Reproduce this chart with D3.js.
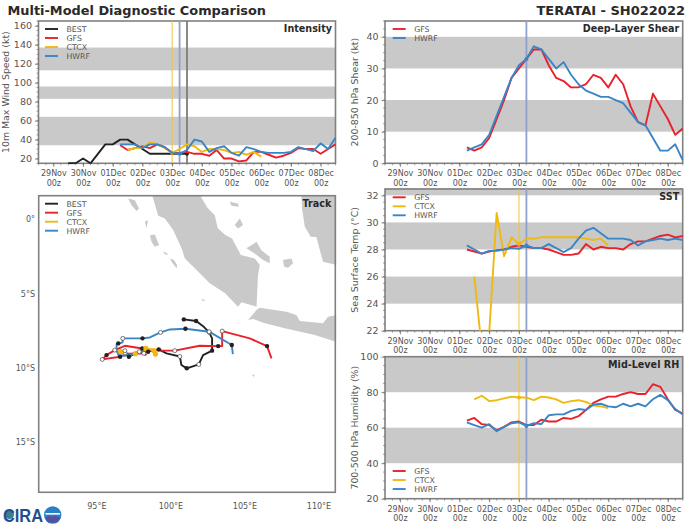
<!DOCTYPE html>
<html>
<head>
<meta charset="utf-8">
<script src="https://cdn.jsdelivr.net/npm/d3@7"></script>
<style>
  body { margin: 0; background: #fff; }
  text { font-family: "DejaVu Sans", sans-serif; }
</style>
</head>
<body>
<div id="chart"></div>
<script>
const red = "#e8212b", yellow = "#efb90f", blue = "#3a85c6", black = "#222222";

// x ticks, one per day
const tick_days = ["2022-11-29", "2022-11-30", "2022-12-01", "2022-12-02", "2022-12-03", "2022-12-04", "2022-12-05", "2022-12-06", "2022-12-07", "2022-12-08"];
const tick_labels = ["29Nov", "30Nov", "01Dec", "02Dec", "03Dec", "04Dec", "05Dec", "06Dec", "07Dec", "08Dec"];

// all series are 6 hourly, these are the start times
const best_start = "2022-11-29T12:00Z";
const gfs_start = "2022-12-01T06:00Z";
const hwrf_start = "2022-12-01T06:00Z";
const ctcx_start = "2022-12-01T12:00Z";

// Intensity
const best_vmax = [15, 15, 20, 15, 25, 35, 35, 40, 40, 35, 30, 25, 25, 25, 25, 25, 25];
const gfs_vmax = [34, 29, 31, 33, 31, 35, 32, 26, 26, 27, 25, 25, 23, 29, 20, 20, 17, 18, 27, 27, 24, 21, 23, 26, 31, 30, 30, 25, 30, 35];
const ctcx_vmax = [29, 31, 31, 37, 35, 31, 26, 30, 35, 33, 27, 30, 30, 29, 26, 27, 24, 27, 22];
const hwrf_vmax = [35, 35, 35, 31, 35, 35, 32, 26, 25, 29, 40, 38, 27, 31, 33, 26, 23, 32, 30, 27, 26, 26, 26, 27, 32, 30, 28, 36, 30, 42];
const vmax_bands = [[34, 64], [83, 96], [113, 137]];

// Shear
const gfs_shear = [5, 4, 5, 8, 14, 20, 27, 30, 33, 36, 36, 31, 27, 26, 24, 24, 25, 28, 27, 24, 28, 25, 18, 13, 12, 22, 18, 14, 9, 11];
const hwrf_shear = [4, 5, 6, 9, 15, 21, 27, 31, 33, 37, 36, 33, 30, 32, 28, 25, 23, 22, 21, 21, 20, 19, 16, 13, 12, 8, 4, 4, 6, 1];
const shear_bands = [[10, 20], [30, 40]];

// SST
const gfs_sst = [28.0, 27.85, 27.7, 27.85, 27.95, 28.0, 28.2, 28.3, 28.2, 28.1, 28.1, 28.0, 27.8, 27.6, 27.6, 27.7, 28.4, 28.0, 28.2, 28.1, 28.1, 28.0, 28.4, 28.6, 28.6, 28.8, 29.0, 29.1, 28.9, 29.0];
const ctcx_sst = [26, 20.7, 21.8, 30.7, 27.5, 28.9, 28.4, 28.8, 28.8, 28.9, 28.9, 28.9, 28.9, 28.9, 28.9, 28.8, 28.7, 28.8, 28.3];
const hwrf_sst = [28.3, 28.0, 27.7, 27.9, 27.9, 28.0, 28.1, 28.05, 28.3, 28.1, 28.1, 28.4, 28.1, 27.8, 28.1, 28.8, 29.4, 29.6, 29.2, 28.8, 28.8, 28.8, 28.7, 28.3, 28.6, 28.7, 28.8, 28.7, 28.8, 28.7];
const sst_bands = [[24, 26], [28, 30], [32, 33]];

// RH
const gfs_rh = [64, 65.5, 62, 61.5, 58.5, 60.5, 63, 63.5, 61.5, 61.5, 64.5, 63.5, 63.5, 65.5, 65, 66.5, 70, 74, 76, 77.5, 77.5, 79, 80, 79, 79, 84.5, 83, 76, 70, 68];
const ctcx_rh = [76, 78, 75, 75.5, 76.5, 77.5, 77, 77, 75.5, 77.5, 77, 76, 74, 75, 75.5, 74.5, 72.5, 72, 71];
const hwrf_rh = [63, 61.5, 60, 62, 58, 60.5, 62.5, 63, 61, 62.5, 62, 67, 67.5, 67.5, 69.5, 70.5, 70, 73, 73.5, 72, 71.5, 73.5, 72, 73.5, 72, 76, 78.5, 75.5, 70.5, 67.5];
const rh_bands = [[40, 60], [80, 100]];

// Track, lon and lat in degrees
const best_lon = [100.87, 101.70, 102.22, 102.58, 102.78, 102.78, 102.17, 101.88, 101.07, 100.71, 100.60, 99.70, 99.18, 98.3, 97.6, 97.16, 97.02, 96.9];
const best_lat = [-6.74, -6.85, -7.24, -7.62, -8.02, -8.85, -9.15, -9.78, -10.04, -9.82, -9.24, -9.03, -8.76, -8.92, -9.05, -9.26, -9.06, -9.0];
const best_filled = [[100.87, -6.74], [101.70, -6.85], [102.78, -8.85], [101.07, -10.04], [99.18, -8.76], [97.16, -9.26]];
const best_open = [[102.58, -7.62], [101.88, -9.78], [100.60, -9.24], [96.9, -9.0]];

const gfs_lon = [106.79, 106.49, 105.32, 103.46, 103.46, 103.19, 101.95, 100.26, 99.18, 98.06, 96.89, 96.21, 95.65, 95.36, 96.57, 97.02, 98.17, 98.35];
const gfs_lat = [-9.37, -8.54, -8.02, -7.53, -8.54, -8.54, -8.52, -8.85, -8.85, -8.70, -8.52, -8.81, -9.15, -9.44, -9.26, -9.06, -9.03, -9.15];
const gfs_filled = [[106.49, -8.54], [103.19, -8.54], [98.06, -8.70], [95.65, -9.15], [96.57, -9.26]];
const gfs_open = [[103.46, -7.53], [100.26, -8.85], [96.21, -8.81], [95.36, -9.44], [98.17, -9.03]];

const ctcx_lon = [98.96, 98.85, 98.31, 97.90, 97.11, 96.60];
const ctcx_lat = [-9.08, -8.85, -8.70, -8.99, -9.15, -8.92];
const ctcx_filled = [[98.96, -9.08], [98.85, -8.85], [98.31, -8.70], [97.6, -9.05], [96.60, -8.92]];
const ctcx_open = [];

const hwrf_lon = [104.18, 104.11, 102.58, 100.98, 99.93, 99.30, 98.58, 98.08, 96.75, 96.73, 96.33, 96.33, 96.46, 96.89, 97.90, 98.46];
const hwrf_lat = [-9.08, -8.47, -7.57, -7.37, -7.42, -7.62, -7.96, -8.02, -8.02, -8.29, -8.43, -8.85, -9.15, -9.19, -8.92, -8.92];
const hwrf_filled = [[104.11, -8.47], [100.98, -7.37], [98.08, -8.02], [96.44, -8.36], [98.46, -8.92]];
const hwrf_open = [[102.58, -7.57], [99.30, -7.62], [96.75, -8.02], [97.86, -8.92], [96.89, -8.85]];

// Land outlines, lon/lat
const land = [
  [[98.73, 1.64], [99.14, 0.24], [99.59, 0.07], [100.15, -0.72], [100.72, -1.95], [100.94, -2.63], [101.73, -3.41], [102.62, -4.31], [103.64, -4.96], [104.53, -5.89], [104.76, -5.59], [105.78, -5.89], [105.88, -3.75], [106.0, -3.08], [105.66, -2.63], [104.72, -2.40], [104.13, -1.28], [103.70, -1.06], [103.16, -0.59], [102.96, 0.29], [102.49, 0.76], [101.95, 1.64]],
  [[105.21, -6.78], [105.78, -6.11], [106.0, -5.95], [107.01, -6.11], [107.80, -6.22], [108.47, -6.44], [108.70, -6.85], [110.27, -7.0], [110.61, -6.56], [111.19, -6.44], [111.19, -8.26], [109.71, -7.79], [107.69, -7.34], [106.34, -7.0], [105.55, -6.71]],
  [[108.81, 1.64], [108.85, 0.76], [109.04, -0.5], [109.44, -1.17], [109.82, -1.19], [110.27, -2.86], [111.19, -3.08], [111.19, 1.64]],
  [[105.10, -1.95], [105.78, -1.51], [106.11, -2.07], [106.67, -2.52], [106.67, -2.96], [106.22, -2.74], [105.66, -2.29]],
  [[107.57, -2.74], [108.14, -2.63], [108.25, -2.96], [107.91, -3.26], [107.64, -3.19]],
  [[104.31, -0.38], [104.65, 0.07], [104.87, -0.38], [104.53, -0.61]],
  [[103.97, 1.19], [104.53, 1.08], [104.58, 0.85], [104.09, 0.92]],
  [[97.11, 1.41], [97.56, 1.30], [97.85, 0.74], [97.68, 0.56], [97.34, 0.96]],
  [[98.24, -0.16], [98.46, -0.05], [98.35, -0.57]],
  [[98.58, -1.06], [98.91, -1.01], [99.2, -1.73], [98.91, -1.85], [98.69, -1.51]],
  [[99.47, -2.13], [99.74, -2.29], [99.81, -2.40], [99.59, -2.34]],
  [[99.93, -2.63], [100.2, -2.74], [100.42, -3.08], [100.38, -3.3], [100.11, -2.96]],
  [[102.06, -5.32], [102.35, -5.5], [102.15, -5.5]],
  [[105.46, -10.45], [105.66, -10.48], [105.59, -10.62]]
];
const lon_ticks = [95, 100, 105, 110];
const lat_ticks = [0, -5, -10, -15];

const svg = d3.select("#chart").append("svg").attr("width", 700).attr("height", 525);

const xDomain = [new Date("2022-11-28T12:00Z"), new Date("2022-12-08T12:00Z")];
const sixHours = d3.utcHours(xDomain[0], d3.utcHour.offset(xDomain[1], 1), 6);

function seriesDates(start, values) {
  return values.map((v, i) => d3.utcHour.offset(new Date(start), i * 6));
}

let clipCount = 0;

// clip is 1px bigger than the box so lines sitting on the frame still show
function panelFrame(box) {
  clipCount++;
  svg.append("clipPath").attr("id", "clip" + clipCount).append("rect")
    .attr("x", box.left - 1).attr("y", box.top - 1)
    .attr("width", box.right - box.left + 2).attr("height", box.bottom - box.top + 2);
  return "url(#clip" + clipCount + ")";
}

function drawSpine(box) {
  svg.append("rect")
    .attr("x", box.left).attr("y", box.top)
    .attr("width", box.right - box.left).attr("height", box.bottom - box.top)
    .attr("fill", "none").attr("stroke", "#808080").attr("stroke-width", 1.6);
}

function drawLegend(x, y, rows) {
  rows.forEach((row, i) => {
    svg.append("line")
      .attr("x1", x).attr("x2", x + 13)
      .attr("y1", y + i * 9).attr("y2", y + i * 9)
      .attr("stroke", row[1]).attr("stroke-width", 1.9);
    svg.append("text")
      .attr("x", x + 21.5).attr("y", y + i * 9 + 3)
      .attr("font-size", 7.8).attr("fill", "#555").text(row[0]);
  });
}

function drawPanel(opt) {
  const box = opt.box;
  const x = d3.scaleUtc().domain(xDomain).range([box.left, box.right]);
  const y = d3.scaleLinear().domain(opt.yDomain).range([box.bottom, box.top]);
  const clip = panelFrame(box);

  svg.append("g").attr("clip-path", clip)
    .selectAll(".band").data(opt.bands).enter().append("rect")
    .attr("x", box.left).attr("width", box.right - box.left)
    .attr("y", d => y(d[1])).attr("height", d => y(d[0]) - y(d[1]))
    .attr("fill", "#c9c9c9");

  drawSpine(box);

  const g = svg.append("g").attr("clip-path", clip);

  // current time markers
  opt.marks.forEach(m => {
    g.append("line")
      .attr("x1", x(new Date(m.time))).attr("x2", x(new Date(m.time)))
      .attr("y1", box.top).attr("y2", box.bottom)
      .attr("stroke", m.color).attr("stroke-width", m.width);
  });

  const line = d3.line().x(d => x(d[0])).y(d => y(d[1]));
  opt.series.forEach(s => {
    const dates = seriesDates(s.start, s.values);
    g.append("path")
      .attr("d", line(dates.map((d, i) => [d, s.values[i]])))
      .attr("fill", "none").attr("stroke", s.color)
      .attr("stroke-width", 1.9).attr("stroke-linejoin", "round");
    if (s.dot) {
      const t = new Date(s.dot);
      const idx = dates.findIndex(d => +d == +t);
      g.append("circle").attr("cx", x(t)).attr("cy", y(s.values[idx])).attr("r", 2)
        .attr("fill", s.color);
    }
  });

  const xAxis = d3.axisBottom(x).tickValues(tick_days.map(d => new Date(d + "T00:00Z"))).tickSize(3.5).tickFormat((d, i) => tick_labels[i]);
  const xg = svg.append("g").attr("transform", "translate(0," + box.bottom + ")").call(xAxis);
  xg.selectAll("text").attr("font-size", 8).attr("fill", "#555").attr("y", 7.5).attr("dy", "0.71em")
    .each(function () {
      d3.select(this.parentNode).append("text")
        .attr("x", 0).attr("y", 17).attr("dy", "0.71em").attr("text-anchor", "middle")
        .attr("font-size", 8).attr("fill", "#555").text("00z");
    });
  xg.selectAll("line").attr("stroke", "#666").attr("stroke-width", 0.8);
  xg.select(".domain").remove();
  xg.selectAll(".minor").data(sixHours).enter().append("line")
    .attr("x1", d => x(d)).attr("x2", d => x(d)).attr("y1", 0).attr("y2", 2)
    .attr("stroke", "#666").attr("stroke-width", 0.6);

  const yAxis = d3.axisLeft(y).tickValues(opt.yTicks).tickSize(3.5).tickFormat(d3.format("d"));
  const yg = svg.append("g").attr("transform", "translate(" + box.left + ",0)").call(yAxis);
  yg.selectAll("text").attr("font-size", 9.5).attr("fill", "#555");
  yg.selectAll("line").attr("stroke", "#666").attr("stroke-width", 0.8);
  yg.select(".domain").remove();
  yg.selectAll(".minor").data(opt.yMinor).enter().append("line")
    .attr("x1", -2).attr("x2", 0).attr("y1", d => y(d)).attr("y2", d => y(d))
    .attr("stroke", "#666").attr("stroke-width", 0.6);

  svg.append("text")
    .attr("transform", "translate(" + opt.labelX + "," + ((box.top + box.bottom) / 2) + ") rotate(-90)")
    .attr("text-anchor", "middle").attr("font-size", 9.4).attr("fill", "#555").text(opt.yLabel);

  svg.append("text").attr("x", box.right - 3.5).attr("y", box.top + 11)
    .attr("text-anchor", "end").attr("font-size", 9.6).attr("font-weight", "bold")
    .attr("fill", "#2a2a2a").text(opt.title);

  drawLegend(opt.legendX, opt.legendY, opt.series.map(s => [s.name, s.color]));
}

function range(a, b, step) {
  return d3.range(a, b + step / 2, step);
}

drawPanel({
  box: { left: 38.5, right: 335.5, top: 21, bottom: 163.3 },
  yDomain: [15, 165], yTicks: range(20, 160, 20), yMinor: range(15, 165, 5),
  bands: vmax_bands, title: "Intensity", yLabel: "10m Max Wind Speed (kt)", labelX: 9,
  legendX: 45, legendY: 29,
  marks: [
    { time: "2022-12-03T00:00Z", color: "#efc23a", width: 1 },
    { time: "2022-12-03T06:00Z", color: "#8ea2c9", width: 1.8 },
    { time: "2022-12-03T12:00Z", color: "#7d7d7d", width: 1.8 }
  ],
  series: [
    { name: "BEST", color: black, start: best_start, values: best_vmax, dot: "2022-12-03T12:00Z" },
    { name: "GFS", color: red, start: gfs_start, values: gfs_vmax },
    { name: "CTCX", color: yellow, start: ctcx_start, values: ctcx_vmax, dot: "2022-12-03T00:00Z" },
    { name: "HWRF", color: blue, start: hwrf_start, values: hwrf_vmax, dot: "2022-12-03T06:00Z" }
  ]
});

drawPanel({
  box: { left: 385, right: 682.7, top: 21, bottom: 163.3 },
  yDomain: [0, 45], yTicks: range(0, 40, 10), yMinor: range(0, 45, 2.5),
  bands: shear_bands, title: "Deep-Layer Shear", yLabel: "200-850 hPa Shear (kt)", labelX: 358,
  legendX: 392.7, legendY: 29,
  marks: [{ time: "2022-12-03T06:00Z", color: "#8ea2c9", width: 1.8 }],
  series: [
    { name: "GFS", color: red, start: gfs_start, values: gfs_shear },
    { name: "HWRF", color: blue, start: hwrf_start, values: hwrf_shear, dot: "2022-12-03T06:00Z" }
  ]
});

drawPanel({
  box: { left: 385, right: 682.7, top: 189, bottom: 330.7 },
  yDomain: [22, 32.47], yTicks: range(22, 32, 2), yMinor: range(22, 32, 0.5),
  bands: sst_bands, title: "SST", yLabel: "Sea Surface Temp (°C)", labelX: 358,
  legendX: 392.7, legendY: 197.3,
  marks: [
    { time: "2022-12-03T00:00Z", color: "#efc23a", width: 1 },
    { time: "2022-12-03T06:00Z", color: "#8ea2c9", width: 1.8 }
  ],
  series: [
    { name: "GFS", color: red, start: gfs_start, values: gfs_sst },
    { name: "CTCX", color: yellow, start: ctcx_start, values: ctcx_sst, dot: "2022-12-03T00:00Z" },
    { name: "HWRF", color: blue, start: hwrf_start, values: hwrf_sst, dot: "2022-12-03T06:00Z" }
  ]
});

drawPanel({
  box: { left: 385, right: 682.7, top: 356.7, bottom: 498.7 },
  yDomain: [20, 100], yTicks: range(20, 100, 20), yMinor: range(20, 100, 5),
  bands: rh_bands, title: "Mid-Level RH", yLabel: "700-500 hPa Humidity (%)", labelX: 358,
  legendX: 392.7, legendY: 471,
  marks: [
    { time: "2022-12-03T00:00Z", color: "#efc23a", width: 1 },
    { time: "2022-12-03T06:00Z", color: "#8ea2c9", width: 1.8 }
  ],
  series: [
    { name: "GFS", color: red, start: gfs_start, values: gfs_rh },
    { name: "CTCX", color: yellow, start: ctcx_start, values: ctcx_rh, dot: "2022-12-03T00:00Z" },
    { name: "HWRF", color: blue, start: hwrf_start, values: hwrf_rh, dot: "2022-12-03T06:00Z" }
  ]
});

// Track map
function drawTrack() {
  const box = { left: 38.7, right: 335.3, top: 195.7, bottom: 492.3 };
  const lon = d3.scaleLinear().domain([91.07, 111.1]).range([box.left, box.right]);
  const lat = d3.scaleLinear().domain([-18.4, 1.6]).range([box.bottom, box.top]);
  const clip = panelFrame(box);
  const g = svg.append("g").attr("clip-path", clip);
  const line = d3.line().x(d => lon(d[0])).y(d => lat(d[1]));

  g.selectAll(".land").data(land).enter().append("path")
    .attr("d", d => line(d) + "Z").attr("fill", "#c9c9c9");

  const tracks = [
    { name: "BEST", color: black, lons: best_lon, lats: best_lat, filled: best_filled, open: best_open },
    { name: "GFS", color: red, lons: gfs_lon, lats: gfs_lat, filled: gfs_filled, open: gfs_open },
    { name: "CTCX", color: yellow, lons: ctcx_lon, lats: ctcx_lat, filled: ctcx_filled, open: ctcx_open },
    { name: "HWRF", color: blue, lons: hwrf_lon, lats: hwrf_lat, filled: hwrf_filled, open: hwrf_open }
  ];
  tracks.forEach(t => {
    g.append("path")
      .attr("d", line(t.lons.map((v, i) => [v, t.lats[i]])))
      .attr("fill", "none").attr("stroke", t.color)
      .attr("stroke-width", 1.9).attr("stroke-linejoin", "round");
  });
  tracks.forEach(t => {
    g.selectAll(".filled").data(t.filled).enter().append("circle")
      .attr("cx", d => lon(d[0])).attr("cy", d => lat(d[1]))
      .attr("r", t.name == "CTCX" ? 2.6 : 2.2)
      .attr("fill", t.name == "CTCX" ? yellow : black);
    g.selectAll(".open").data(t.open).enter().append("circle")
      .attr("cx", d => lon(d[0])).attr("cy", d => lat(d[1])).attr("r", 2)
      .attr("fill", "#fff").attr("stroke", "#444").attr("stroke-width", 0.7);
  });

  drawSpine(box);

  svg.selectAll(".lonlab").data(lon_ticks).enter().append("text")
    .attr("x", d => lon(d)).attr("y", 508.5).attr("text-anchor", "middle")
    .attr("font-size", 8).attr("fill", "#555").text(d => d + "°E");
  svg.selectAll(".latlab").data(lat_ticks).enter().append("text")
    .attr("x", 35).attr("y", d => lat(d) + 3).attr("text-anchor", "end")
    .attr("font-size", 8).attr("fill", "#555").text(d => d == 0 ? "0°" : (-d) + "°S");

  svg.append("text").attr("x", box.right - 4).attr("y", box.top + 11)
    .attr("text-anchor", "end").attr("font-size", 9.6).attr("font-weight", "bold")
    .attr("fill", "#2a2a2a").text("Track");

  drawLegend(45, 203.7, tracks.map(t => [t.name, t.color]));
}
drawTrack();

svg.append("text").attr("x", 7.5).attr("y", 15).attr("font-size", 12.9).attr("font-weight", "bold")
  .attr("fill", "#2a2a2a").text("Multi-Model Diagnostic Comparison");
svg.append("text").attr("x", 685).attr("y", 15).attr("text-anchor", "end").attr("font-size", 13).attr("font-weight", "bold")
  .attr("fill", "#2a2a2a").text("TERATAI - SH022022");

// CIRA logo
svg.append("circle").attr("cx", 9.5).attr("cy", 514.5).attr("r", 4.5).attr("fill", "#3d7f8f");
svg.append("text").attr("x", 3).attr("y", 521.5)
  .attr("style", "font-family:'Liberation Sans'")
  .attr("font-size", 18).attr("font-weight", "bold").attr("fill", "#1f4f8f")
  .attr("textLength", 40).attr("lengthAdjust", "spacingAndGlyphs").text("CIRA");
svg.append("circle").attr("cx", 52.7).attr("cy", 515).attr("r", 8.7).attr("fill", "#2a80c8");
svg.append("rect").attr("x", 45.5).attr("y", 513).attr("width", 14.5).attr("height", 1.6).attr("fill", "#fff");
svg.append("path").attr("d", d3.line()([[45, 518], [49, 515.5], [52, 517], [55, 515.5], [60.5, 518], [57, 522.5], [48, 522.5]]) + "Z").attr("fill", "#5a4f9c");
</script>
</body>
</html>
